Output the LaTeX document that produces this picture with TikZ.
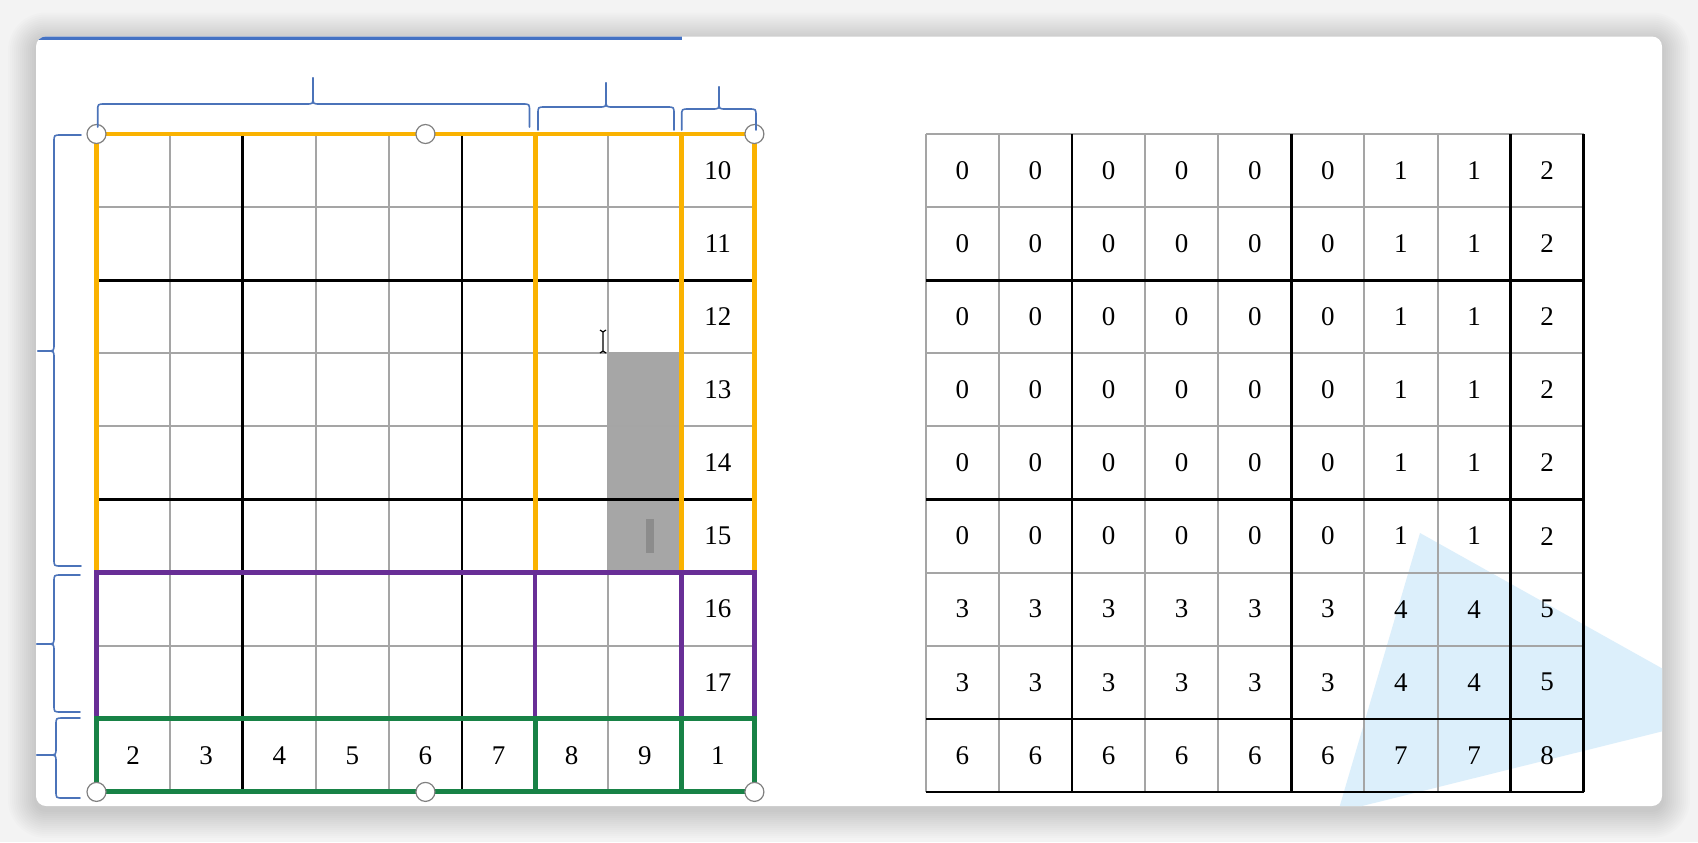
\documentclass[tikz,border=0pt]{standalone}
\usepackage{fontspec}
\setmainfont{Liberation Serif}
\definecolor{bgc}{RGB}{243,243,243}
\definecolor{gline}{RGB}{165,165,165}
\definecolor{orng}{RGB}{250,178,0}
\definecolor{purp}{RGB}{104,46,150}
\definecolor{grn}{RGB}{24,130,70}
\definecolor{brc}{RGB}{75,115,185}
\definecolor{barblue}{RGB}{68,114,196}
\definecolor{tri}{RGB}{220,239,251}
\definecolor{cellgray}{RGB}{166,166,166}
\definecolor{bargray}{RGB}{140,140,140}
\newcommand{\BraceTop}[6]{% x1,x2,xm,ybase,ymid,ytip
  \draw[bracestyle] (#1,#4) -- (#1,#5+7) .. controls (#1,#5) .. (#1+7,#5) -- (#3-7,#5) .. controls (#3,#5) .. (#3,#5-7) -- (#3,#6);
  \draw[bracestyle] (#2,#4) -- (#2,#5+7) .. controls (#2,#5) .. (#2-7,#5) -- (#3+7,#5) .. controls (#3,#5) .. (#3,#5-7) -- (#3,#6);}
\newcommand{\BraceLeft}[6]{% y1,y2,ym,xbase,xmid,xtip
  \draw[bracestyle] (#4,#1) -- (#5+7,#1) .. controls (#5,#1) .. (#5,#1+7) -- (#5,#3-7) .. controls (#5,#3) .. (#5-7,#3) -- (#6,#3);
  \draw[bracestyle] (#4,#2) -- (#5+7,#2) .. controls (#5,#2) .. (#5,#2-7) -- (#5,#3+7) .. controls (#5,#3) .. (#5-7,#3) -- (#6,#3);}
\begin{document}
\begin{tikzpicture}[x=0.5pt,y=-0.5pt,
  bracestyle/.style={draw=brc,line width=0.8pt,line cap=round,line join=round},
  gridthin/.style={draw=gline,line width=1pt},
  gridthick/.style={draw=black,line width=1.3pt},
  orangeline/.style={draw=orng,line width=2.4pt},
  purpleline/.style={draw=purp,line width=2.3pt},
  greenline/.style={draw=grn,line width=2.5pt},
  handle/.style={circle,draw=gray,fill=white,line width=0.6pt,minimum size=9.5pt,inner sep=0pt},
  num/.style={font=\fontsize{13.5}{16}\selectfont,inner sep=0pt}]
\useasboundingbox (0,0) rectangle (1698,842);
\fill[bgc] (0,0) rectangle (1698,842);
% soft shadow of the card
\foreach \k in {1,...,14}{
  \fill[black,opacity=0.012,rounded corners={5pt+\k*1pt}]
    ({36-2*\k},{36.5-2*\k+4}) rectangle ({1662+2*\k},{806+2*\k+4});
}
% card
\fill[white,rounded corners=5pt] (36,36.5) rectangle (1662,806);
\begin{scope}
  \clip[rounded corners=5pt] (36,36.5) rectangle (1662,806);
  \fill[tri] (1420,533) -- (1740,712) -- (1338,812) -- cycle;
  \fill[barblue] (30,35) rectangle (682,39.5);
\end{scope}
% ---------- left grid ----------
\def\LX{96.5}\def\TY{134}\def\C{73.1}
\fill[cellgray] ({\LX+7*\C},{\TY+3*\C}) rectangle ({\LX+8*\C},{\TY+6*\C});
\fill[bargray] (646,519) rectangle (654,553);
\foreach \i in {0,...,9}{
  \draw[gridthin] ({\LX+\i*\C},\TY) -- ({\LX+\i*\C},{\TY+9*\C});
  \draw[gridthin] (\LX,{\TY+\i*\C}) -- ({\LX+9*\C},{\TY+\i*\C});
}
\foreach \i in {2,5}{
  \draw[gridthick] ({\LX+\i*\C},\TY) -- ({\LX+\i*\C},{\TY+9*\C});
  \draw[gridthick] (\LX,{\TY+\i*\C}) -- ({\LX+9*\C},{\TY+\i*\C});
}
% orange block
\draw[orangeline] (\LX,\TY) rectangle ({\LX+9*\C},{\TY+6*\C});
\foreach \i in {6,8}{\draw[orangeline] ({\LX+\i*\C},\TY) -- ({\LX+\i*\C},{\TY+6*\C});}
% purple block
\draw[purpleline] (\LX,{\TY+6*\C}) rectangle ({\LX+9*\C},{\TY+8*\C});
\foreach \i in {6,8}{\draw[purpleline] ({\LX+\i*\C},{\TY+6*\C}) -- ({\LX+\i*\C},{\TY+8*\C});}
% green block
\draw[greenline] (\LX,{\TY+8*\C}) rectangle ({\LX+9*\C},{\TY+9*\C});
\foreach \i in {6,8}{\draw[greenline] ({\LX+\i*\C},{\TY+8*\C}) -- ({\LX+\i*\C},{\TY+9*\C});}
% I-beam cursor
\draw[black,line width=0.6pt] (603,331) -- (603,352) (600,330) -- (603,332) -- (606,330) (600,353) -- (603,351) -- (606,353);
% handles
\node[handle] (h1) at (\LX,\TY) {};
\node[handle] (h2) at ({\LX+4.5*\C},\TY) {};
\node[handle] (h3) at ({\LX+9*\C},\TY) {};
\node[handle] (h4) at (\LX,{\TY+9*\C}) {};
\node[handle] (h5) at ({\LX+4.5*\C},{\TY+9*\C}) {};
\node[handle] (h6) at ({\LX+9*\C},{\TY+9*\C}) {};
% numbers in left grid
\foreach \r [evaluate=\r as \v using int(\r+10)] in {0,...,7}{
  \node[num] (L\r) at ({\LX+8.5*\C},{\TY+(\r+0.5)*\C}) {\v};
}
\foreach \c/\v in {0/2,1/3,2/4,3/5,4/6,5/7,6/8,7/9,8/1}{
  \node[num] (B\c) at ({\LX+(\c+0.5)*\C},{\TY+8.5*\C}) {\v};
}
% braces
\BraceTop{97.7}{529.5}{313}{127}{104}{78}
\BraceTop{538}{674}{606}{130}{107}{83}
\BraceTop{681.7}{756}{719}{130}{109}{87}
\BraceLeft{135}{566}{351}{81}{54}{38}
\BraceLeft{575}{712}{644}{80}{54}{37}
\BraceLeft{718}{798}{755}{80}{56}{37}
% ---------- right grid ----------
\def\RX{925.8}
\foreach \i in {0,...,9}{
  \draw[gridthin] ({\RX+\i*\C},\TY) -- ({\RX+\i*\C},{\TY+9*\C});
  \draw[gridthin] (\RX,{\TY+\i*\C}) -- ({\RX+9*\C},{\TY+\i*\C});
}
\foreach \i in {2,5,8,9}{
  \draw[gridthick] ({\RX+\i*\C},\TY) -- ({\RX+\i*\C},{\TY+9*\C});
  \draw[gridthick] (\RX,{\TY+\i*\C}) -- ({\RX+9*\C},{\TY+\i*\C});
}
\foreach \r in {0,...,8}{
  \foreach \c in {0,...,8}{
    \pgfmathtruncatemacro{\rb}{\r<6 ? 0 : (\r<8 ? 1 : 2)}
    \pgfmathtruncatemacro{\cb}{\c<6 ? 0 : (\c<8 ? 1 : 2)}
    \pgfmathtruncatemacro{\val}{3*\rb+\cb}
    \node[num] (R\r c\c) at ({\RX+(\c+0.5)*\C},{\TY+(\r+0.5)*\C}) {\val};
  }
}
\end{tikzpicture}
\end{document}
